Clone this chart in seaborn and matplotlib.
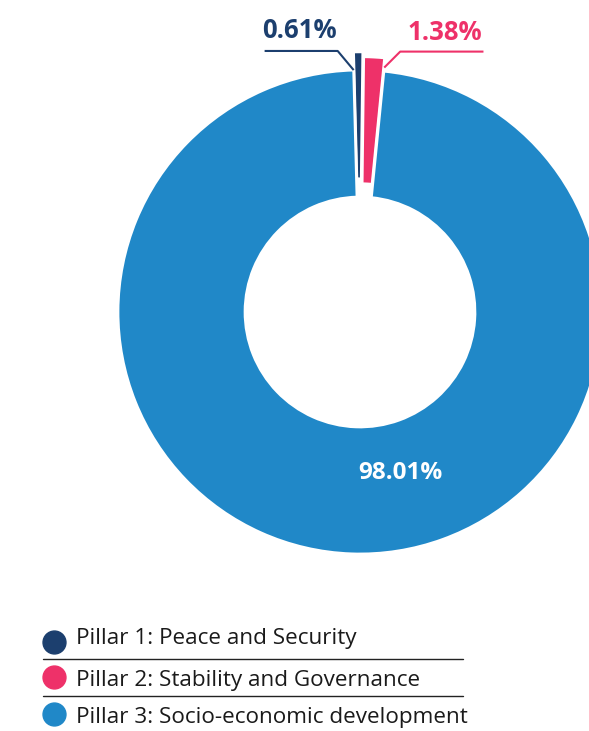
import numpy as np
import seaborn as sns
import matplotlib.pyplot as plt

# donnees
pillars = ["Pillar 1: Peace and Security",
           "Pillar 2: Stability and Governance",
           "Pillar 3: Socio-economic development"]
shares = [0.61, 1.38, 98.01]
colors = ["#1c3f6e", "#ee3169", "#2088c8"]
explode = [0.075, 0.055, 0.0]

sns.set_theme(style="white")
plt.rcParams['font.family'] = ['Open Sans', 'DejaVu Sans']

W, H = 589, 731
fig = plt.figure(figsize=(W / 100, H / 100), dpi=100)
ax = fig.add_axes([0, 0, 1, 1])

# centre et rayon du donut en pixels
cx, cy, R = 360, 312, 242

wedges, _ = ax.pie(shares, colors=colors, explode=explode, startangle=91.5,
                   counterclock=False, radius=1.0,
                   wedgeprops=dict(width=0.525, edgecolor="white", linewidth=2))
ax.set_xlim(-cx / R, (W - cx) / R)
ax.set_ylim((cy - H) / R, cy / R)
ax.set_aspect('auto')
ax.axis('off')

# etiquettes des petites parts
def point(theta, r):
    t = np.deg2rad(theta)
    return r * np.cos(t), r * np.sin(t)

# navy : ligne depuis le bord gauche de la part
x0, y0 = point(wedges[0].theta2, 1.0)
ax.plot([x0, x0 - 0.066, x0 - 0.368], [y0, y0 + 0.079, y0 + 0.079],
        color=colors[0], lw=1.5, solid_capstyle='butt')
ax.text(x0 - 0.225, y0 + 0.165, f"{shares[0]:.2f}%", color=colors[0],
        fontsize=18.5, fontweight='bold', ha='center', va='center')

# rose : ligne depuis le bord droit de la part
x1, y1 = point(wedges[1].theta1, 1.015)
ax.plot([x1, x1 + 0.066, x1 + 0.41], [y1, y1 + 0.066, y1 + 0.066],
        color=colors[1], lw=1.5, solid_capstyle='butt')
ax.text(x1 + 0.25, y1 + 0.145, f"{shares[1]:.2f}%", color=colors[1],
        fontsize=18.5, fontweight='bold', ha='center', va='center')

ax.text(0.165, -0.665, f"{shares[2]:.2f}%", color="white",
        fontsize=17.5, fontweight='bold', ha='center', va='center')

# legende manuelle en pixels
def fx(px):
    return px / W

def fy(py):
    return 1 - py / H

dot_y = [642, 677, 714]
base_y = [644, 686, 723]
for i, (lab, col) in enumerate(zip(pillars, colors)):
    fig.add_artist(plt.Line2D([fx(54)], [fy(dot_y[i])], marker='o', markersize=16.5,
                              color=col, linestyle='none'))
    fig.text(fx(76), fy(base_y[i]), lab, fontsize=16.2, color="#1a1a1a",
             ha='left', va='baseline')
for ly in [659, 696]:
    fig.add_artist(plt.Line2D([fx(43), fx(463)], [fy(ly), fy(ly)],
                              color="#222222", lw=1))

fig.savefig("out.png", dpi=100)
